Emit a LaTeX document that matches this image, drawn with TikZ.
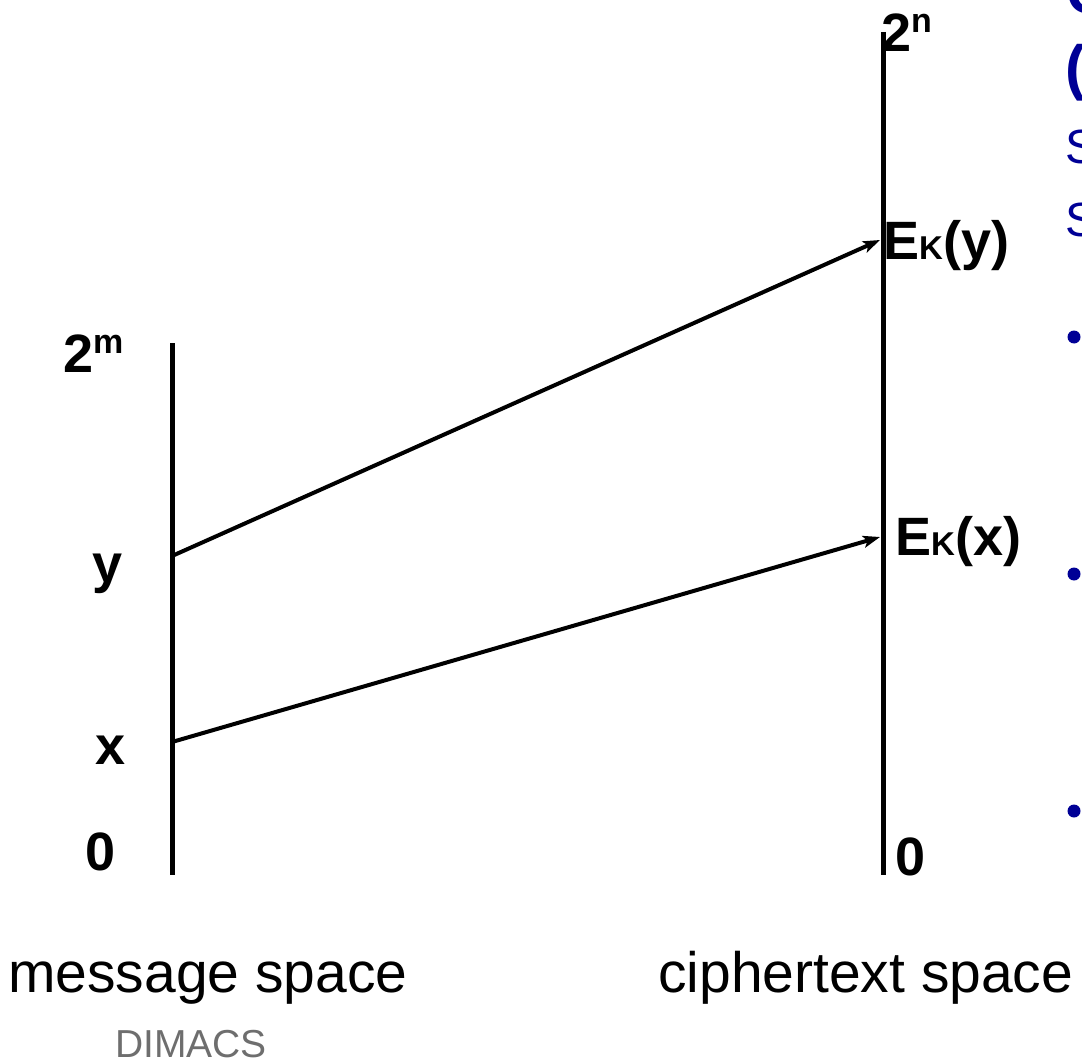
\documentclass[tikz,border=0pt]{standalone}
\usepackage{fontspec}
\setmainfont{Liberation Sans}
\usetikzlibrary{arrows.meta}
\definecolor{slideblue}{RGB}{0,0,150}
\definecolor{dimgray}{RGB}{110,110,110}
\newcommand\supx[1]{\raisebox{19pt}{\fontsize{34}{34}\selectfont #1}}
\newcommand\subK{{\fontsize{33}{33}\selectfont K}}
\begin{document}
\begin{tikzpicture}[x=1pt,y=-1pt,
  axisline/.style={line width=5pt},
  maparrow/.style={line width=4pt,-{Stealth[length=17pt,width=12pt,inset=4pt]}},
  lbl/.style={anchor=base west,inner sep=0pt,font=\fontsize{54}{60}\selectfont\bfseries},
  caption/.style={anchor=base west,inner sep=0pt,font=\fontsize{57}{64}\selectfont},
  credit/.style={anchor=base west,inner sep=0pt,text depth=0pt,text=dimgray,font=\fontsize{39}{44}\selectfont},
  cuttitle/.style={anchor=base west,inner sep=0pt,text=slideblue,font=\fontsize{61}{61}\selectfont\bfseries},
  cutbody/.style={anchor=base west,inner sep=0pt,text=slideblue,font=\fontsize{48}{48}\selectfont},
  bulletdot/.style={fill=slideblue}]
\useasboundingbox (0,0) rectangle (1082,1062);
\clip (0,0) rectangle (1082,1062);
% axes
\coordinate (mtop) at (172,343);
\coordinate (mbot) at (172,875);
\coordinate (ctop) at (883,32);
\coordinate (cbot) at (883,875);
\draw[axisline] (mtop) -- (mbot);
\draw[axisline] (ctop) -- (cbot);
% mapping points
\coordinate (my) at (172,556);
\coordinate (mx) at (172,742);
\coordinate (cy) at (880,240);
\coordinate (cx) at (880,537);
\draw[maparrow] (my) -- (cy);
\draw[maparrow] (mx) -- (cx);
% labels on message axis
\node[lbl] (lm) at (63,372) {2\supx{m}};
\node[lbl] (ly) at (92,582) {y};
\node[lbl] (lx) at (95,764) {x};
\node[lbl] (l0) at (85,870) {0};
% labels on ciphertext axis
\node[lbl] (ln) at (881,52) {2\supx{n}};
\node[lbl] (lEy) at (883,259) {E\subK(y)};
\node[lbl] (lEx) at (895,555) {E\subK(x)};
\node[lbl] (r0) at (895,875) {0};
% captions
\node[caption] (capm) at (8,992) {message space};
\node[caption] (capc) at (658,992) {ciphertext space};
\node[credit] (dim) at (115,1057) {DIMACS};
% cut-off slide text at right edge
\node[cuttitle] (t1) at (1066,14) {C};
\node[cuttitle] (t2) at (1065,89) {(};
\node[cutbody] (s1) at (1065,164) {S};
\node[cutbody] (s2) at (1065,236) {S};
\fill[bulletdot] (1074,337) circle (6.5pt);
\fill[bulletdot] (1074,574) circle (6.5pt);
\fill[bulletdot] (1074,811) circle (6.5pt);
\end{tikzpicture}
\end{document}
